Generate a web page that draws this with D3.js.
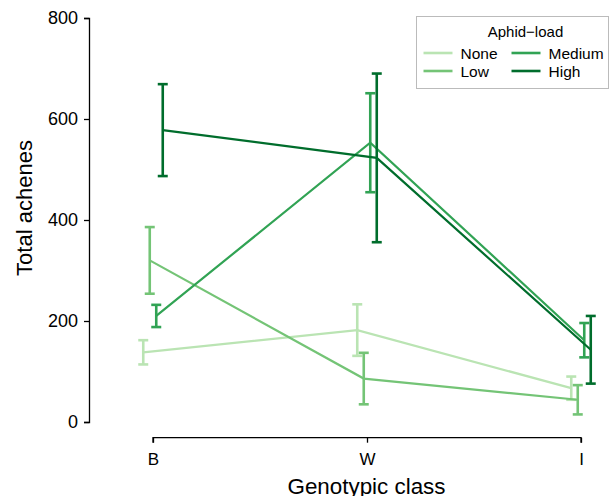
<!DOCTYPE html>
<html>
<head>
<meta charset="utf-8">
<script src="https://cdn.jsdelivr.net/npm/d3@7"></script>
<style>
  body { margin: 0; background: #fff; }
  text { font-family: "Liberation Sans", Arial, Helvetica, sans-serif; }
</style>
</head>
<body>
<svg id="root" width="613" height="496"></svg>
<script>
// genotypic classes on the x axis
const classes = ['B', 'W', 'I'];
// aphid-load groups
const loads = ['None', 'Low', 'Medium', 'High'];
const colours = ['#bae4b3', '#74c476', '#31a354', '#006d2c'];

// mean total achenes per load, one value per class (B, W, I)
const meanNone = [138, 182, 67];
const meanLow = [320, 86, 44];
const meanMedium = [210, 553, 162];
const meanHigh = [578, 523, 143];

// half-length of each error bar
const errNone = [24, 51, 23];
const errLow = [66, 51, 29];
const errMedium = [22, 98, 34];
const errHigh = [91, 167, 67];

const yTicks = [0, 200, 400, 600, 800];

const series = [
  { load: 'None', mean: meanNone, err: errNone },
  { load: 'Low', mean: meanLow, err: errLow },
  { load: 'Medium', mean: meanMedium, err: errMedium },
  { load: 'High', mean: meanHigh, err: errHigh },
];

const svg = d3.select('#root');

const x = d3.scalePoint().domain(classes).range([153, 581]);
const dodge = d3.scalePoint().domain(loads).range([-9.75, 9.75]);
const y = d3.scaleLinear().domain([0, 800]).range([422, 18]);
const colour = d3.scaleOrdinal().domain(loads).range(colours);

// y axis
const yAxis = svg
  .append('g')
  .attr('transform', 'translate(89,0)')
  .call(d3.axisLeft(y).tickValues(yTicks).tickSizeOuter(0).tickSize(5).tickPadding(6));
yAxis.select('.domain').attr('stroke', '#000').attr('stroke-width', 1.3);
yAxis.selectAll('.tick line').attr('stroke', '#000').attr('stroke-width', 1.3);
yAxis.selectAll('.tick text').attr('font-size', 18).attr('fill', '#000');

// x axis
const xAxis = svg
  .append('g')
  .attr('transform', 'translate(0,437.7)')
  .call(d3.axisBottom(x).tickSizeOuter(0).tickSize(5).tickPadding(10));
xAxis.select('.domain').attr('stroke', '#000').attr('stroke-width', 1.3)
  .attr('d', `M${x('B')},5V0H${x('I')}V5`);
xAxis.selectAll('.tick line').attr('stroke', '#000').attr('stroke-width', 1.3);
xAxis.selectAll('.tick text').attr('font-size', 17).attr('fill', '#000');

// axis titles
svg
  .append('text')
  .attr('transform', 'translate(32,208) rotate(-90)')
  .attr('text-anchor', 'middle')
  .attr('font-size', 22)
  .text('Total achenes');

svg
  .append('text')
  .attr('x', 366.5)
  .attr('y', 494)
  .attr('text-anchor', 'middle')
  .attr('font-size', 22.4)
  .text('Genotypic class');

// lines + error bars
const line = d3
  .line()
  .x(d => x(d.cls) + dodge(d.load))
  .y(d => y(d.mean));

const points = s => classes.map((cls, i) => ({ cls, load: s.load, mean: s.mean[i], err: s.err[i] }));

const group = svg
  .selectAll('.series')
  .data(series)
  .enter()
  .append('g')
  .attr('class', 'series');

group
  .append('path')
  .attr('fill', 'none')
  .attr('stroke', d => colour(d.load))
  .attr('stroke-width', 2.2)
  .attr('d', d => line(points(d)));

const bar = group
  .selectAll('.err')
  .data(d => points(d))
  .enter()
  .append('g')
  .attr('class', 'err')
  .attr('stroke', d => colour(d.load))
  .attr('stroke-width', 2.6);

bar
  .append('line')
  .attr('x1', d => x(d.cls) + dodge(d.load))
  .attr('x2', d => x(d.cls) + dodge(d.load))
  .attr('y1', d => y(d.mean - d.err))
  .attr('y2', d => y(d.mean + d.err));

[1, -1].forEach(sign => {
  bar
    .append('line')
    .attr('x1', d => x(d.cls) + dodge(d.load) - 5)
    .attr('x2', d => x(d.cls) + dodge(d.load) + 5)
    .attr('y1', d => y(d.mean + sign * d.err))
    .attr('y2', d => y(d.mean + sign * d.err));
});

// legend
const legend = svg.append('g').attr('transform', 'translate(416.5,16.5)');
legend
  .append('rect')
  .attr('width', 192)
  .attr('height', 72)
  .attr('fill', '#fff')
  .attr('stroke', '#bbb')
  .attr('stroke-width', 1);
legend
  .append('text')
  .attr('x', 109)
  .attr('y', 20)
  .attr('text-anchor', 'middle')
  .attr('font-size', 15)
  .text('Aphid\u2212load');

const item = legend
  .selectAll('.item')
  .data(loads)
  .enter()
  .append('g')
  .attr('class', 'item')
  .attr('transform', (d, i) => `translate(${i < 2 ? 7 : 95},${i % 2 ? 54.5 : 36.5})`);
item
  .append('line')
  .attr('x1', 0)
  .attr('x2', 29)
  .attr('stroke', d => colour(d))
  .attr('stroke-width', 2.6);
item
  .append('text')
  .attr('x', 37)
  .attr('y', 5.5)
  .attr('font-size', 15.5)
  .text(d => d);
</script>
</body>
</html>
